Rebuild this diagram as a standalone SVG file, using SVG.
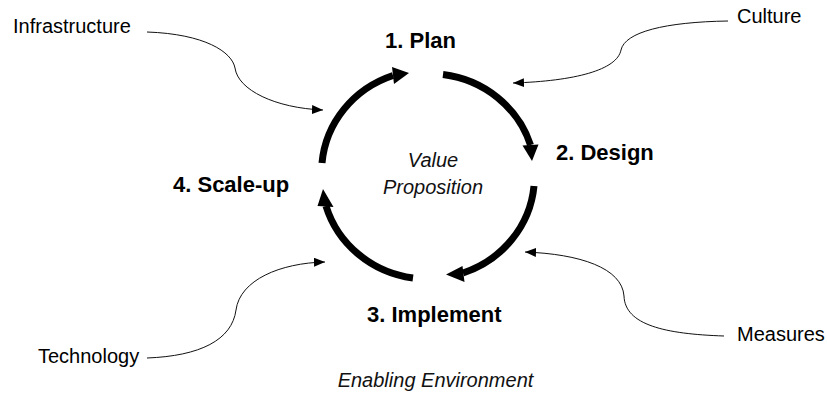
<svg xmlns="http://www.w3.org/2000/svg" width="827" height="396" viewBox="0 0 827 396">
  <style>
    .stage { font-family: "Liberation Sans", Arial, sans-serif; font-size: 22px; font-weight: bold; fill: #000; }
    .factor { font-family: "Liberation Sans", Arial, sans-serif; font-size: 20px; fill: #000; }
    .ital { font-family: "Liberation Sans", Arial, sans-serif; font-size: 20px; font-style: italic; fill: #111; }
    .cycle { fill: none; stroke: #000; stroke-width: 7; stroke-linecap: butt; }
    .head { fill: #000; stroke: none; }
    .thin { fill: none; stroke: #111; stroke-width: 1; marker-end: url(#tip); }
  </style>
  <defs>
    <marker id="tip" markerUnits="userSpaceOnUse" markerWidth="12" markerHeight="10" refX="11" refY="4.5" orient="auto">
      <path d="M0,0 L11,4.5 L0,9 z" fill="#000"/>
    </marker>
  </defs>
  <rect width="827" height="396" fill="#fff"/>

  <g id="connectors">
    <path class="cycle" d="M443,74.5 A106,102 0 0 1 530.5,145"/>
    <polygon class="head" points="532,161 522.5,145.5 538.5,144.5"/>
    <path class="cycle" d="M534,186 A106,102 0 0 1 463,273"/>
    <polygon class="head" points="446,274.5 462.5,266 464.5,282"/>
    <path class="cycle" d="M413,278 A106,102 0 0 1 326,206"/>
    <polygon class="head" points="323,189 317.5,206 333.5,207"/>
    <path class="cycle" d="M322,163 A106,102 0 0 1 393,75.5"/>
    <polygon class="head" points="409,73 392,67 394,84"/>

    <path class="thin" d="M147,32 C205,34 232,52 235,68 C238,90 275,108 323,110"/>
    <path class="thin" d="M728,21 C665,22 625,32 621,50 C617,70 575,81 513,83"/>
    <path class="thin" d="M147,358 C200,356 232,340 236,310 C240,280 280,263 325,262"/>
    <path class="thin" d="M724,336 C665,334 625,325 624,296 C622,268 580,254 525,252"/>
  </g>

  <g id="plan"><text class="stage" x="385" y="48">1. Plan</text></g>
  <g id="design"><text class="stage" x="556" y="160">2. Design</text></g>
  <g id="implement"><text class="stage" x="367" y="322">3. Implement</text></g>
  <g id="scaleup"><text class="stage" x="173" y="192">4. Scale-up</text></g>

  <g id="value-proposition">
    <text class="ital" x="433" y="167" text-anchor="middle">Value</text>
    <text class="ital" x="433" y="194" text-anchor="middle">Proposition</text>
  </g>

  <g id="infrastructure"><text class="factor" x="13" y="33">Infrastructure</text></g>
  <g id="culture"><text class="factor" x="737" y="23">Culture</text></g>
  <g id="technology"><text class="factor" x="38" y="363">Technology</text></g>
  <g id="measures"><text class="factor" x="737" y="341">Measures</text></g>

  <g id="environment"><text class="ital" x="435.5" y="387" text-anchor="middle">Enabling Environment</text></g>
</svg>
